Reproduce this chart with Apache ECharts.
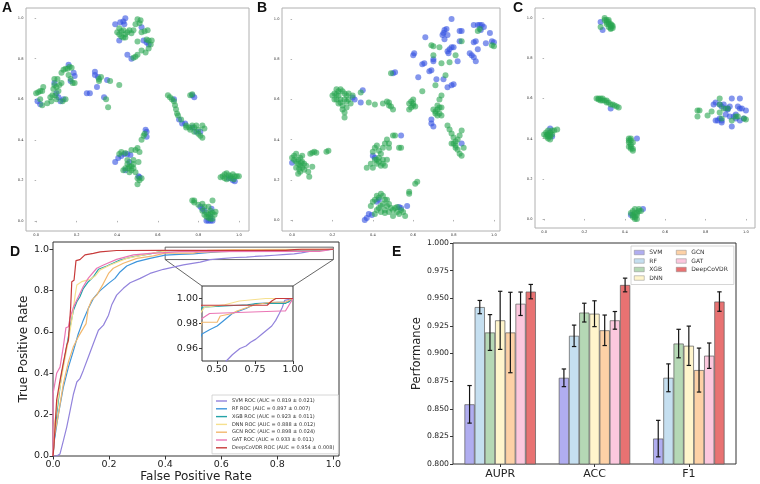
<!DOCTYPE html>
<html><head><meta charset="utf-8">
<script src="https://cdn.jsdelivr.net/npm/echarts@6/dist/echarts.min.js"></script>
<style>html,body{margin:0;padding:0;background:#fff}#c{width:760px;height:484px}</style>
</head><body><div id="c"></div><script>
// ---------------- DATA ----------------
const scatterTickValues = [0, 0.2, 0.4, 0.6, 0.8, 1.0];

const A_blue = [[0.39,0.97],[0.415,0.98],[0.43,0.983],[0.44,1.0],[0.435,0.97],[0.41,0.89],[0.45,0.82],[0.47,0.80],[0.53,0.89],[0.545,0.88],[0.555,0.87],[0.52,0.955],
[0.007,0.59],[0.02,0.575],[0.16,0.77],[0.185,0.73],[0.19,0.715],[0.09,0.68],[0.1,0.63],[0.12,0.59],[0.135,0.6],[0.11,0.61],[0.17,0.69],
[0.29,0.735],[0.29,0.72],[0.305,0.71],[0.30,0.66],[0.35,0.695],[0.25,0.63],[0.265,0.63],[0.335,0.61],
[0.39,0.29],[0.405,0.31],[0.42,0.32],[0.435,0.33],[0.45,0.33],[0.465,0.325],[0.54,0.45],[0.545,0.44],[0.545,0.415],[0.505,0.22],[0.51,0.215],[0.46,0.29],[0.44,0.25],
[0.72,0.48],[0.735,0.48],[0.705,0.5],[0.77,0.46],[0.79,0.44],[0.81,0.44],[0.78,0.61],[0.77,0.62],[0.68,0.6],
[0.81,0.07],[0.82,0.06],[0.83,0.05],[0.84,0.0],[0.85,0.0],[0.86,0.0],[0.87,0.0],[0.86,0.02],[0.865,0.06],
[0.97,0.2],[0.98,0.195],[0.95,0.21]];
const A_green = [[0.40,0.93],[0.41,0.92],[0.42,0.91],[0.43,0.905],[0.44,0.92],[0.45,0.93],[0.46,0.94],[0.47,0.925],[0.48,0.94],[0.49,0.97],[0.50,0.995],[0.515,0.99],[0.52,0.93],[0.535,0.935],[0.545,0.895],[0.555,0.89],[0.565,0.87],[0.555,0.85],[0.54,0.83],[0.52,0.84],[0.50,0.82],[0.49,0.81],[0.48,0.805],[0.50,0.885],[0.41,0.95],[0.43,0.94],[0.57,0.89],[0.51,0.975],[0.55,0.94],[0.42,0.935],[0.44,0.905],
[0.0,0.63],[0.01,0.635],[0.02,0.64],[0.03,0.64],[0.035,0.66],[0.02,0.60],[0.03,0.57],[0.055,0.58],[0.075,0.59],[0.08,0.62],[0.085,0.65],[0.09,0.67],[0.09,0.70],[0.105,0.70],[0.10,0.66],[0.11,0.64],[0.115,0.67],[0.125,0.68],[0.125,0.73],[0.135,0.745],[0.145,0.75],[0.155,0.75],[0.165,0.76],[0.175,0.755],[0.16,0.72],[0.17,0.70],[0.18,0.68],[0.19,0.68],[0.13,0.59],[0.145,0.60],[0.095,0.62],[0.10,0.60],[0.07,0.61],
[0.31,0.70],[0.31,0.69],[0.365,0.69],[0.41,0.67],[0.355,0.56],[0.345,0.60],[0.32,0.71],
[0.41,0.33],[0.42,0.34],[0.44,0.335],[0.45,0.30],[0.45,0.28],[0.46,0.27],[0.47,0.27],[0.47,0.25],[0.46,0.24],[0.44,0.26],[0.43,0.25],[0.48,0.30],[0.49,0.35],[0.50,0.36],[0.51,0.34],[0.52,0.40],[0.53,0.42],[0.535,0.43],[0.49,0.24],[0.50,0.21],[0.51,0.20],[0.50,0.18],[0.52,0.21],[0.48,0.26],[0.47,0.35],[0.48,0.28],[0.455,0.26],[0.505,0.29],
[0.65,0.62],[0.66,0.61],[0.67,0.60],[0.68,0.59],[0.685,0.57],[0.69,0.55],[0.695,0.53],[0.70,0.52],[0.715,0.50],[0.74,0.47],[0.755,0.46],[0.76,0.45],[0.78,0.46],[0.80,0.45],[0.82,0.47],[0.80,0.43],[0.82,0.41],[0.78,0.44],[0.74,0.46],[0.83,0.455],[0.76,0.62],[0.77,0.625],[0.81,0.42],[0.79,0.47],[0.77,0.47],
[0.77,0.10],[0.78,0.10],[0.78,0.09],[0.80,0.08],[0.82,0.085],[0.83,0.07],[0.85,0.07],[0.87,0.10],[0.885,0.045],[0.84,0.04],[0.85,0.03],[0.86,0.035],[0.84,0.02],[0.85,0.015],[0.86,0.01],[0.87,0.01],[0.83,0.03],[0.82,0.05],[0.86,0.05],[0.87,0.04],[0.88,0.03],
[0.92,0.22],[0.93,0.23],[0.94,0.235],[0.95,0.225],[0.96,0.22],[0.97,0.23],[0.98,0.22],[0.99,0.22],[1.0,0.22],[0.93,0.21],[0.94,0.205],[0.96,0.21],[0.975,0.205],[0.91,0.215]];

const B_blue = [[0.0,0.285],[0.30,0.61],[0.31,0.60],[0.35,0.645],[0.34,0.585],
[0.40,0.32],[0.41,0.31],[0.54,0.42],[0.84,0.38],
[0.36,0.0],[0.37,0.01],[0.38,0.03],[0.395,0.025],[0.42,0.09],[0.43,0.10],[0.53,0.065],[0.54,0.06],[0.57,0.07],
[0.50,0.73],[0.51,0.735],[0.60,0.82],[0.605,0.83],[0.625,0.71],[0.645,0.775],[0.655,0.78],[0.66,0.91],[0.68,0.74],[0.69,0.745],[0.70,0.79],[0.70,0.80],[0.69,0.50],[0.69,0.48],[0.70,0.465],[0.715,0.70],[0.745,0.92],[0.75,0.93],[0.755,0.945],[0.765,0.95],[0.77,0.92],[0.755,0.90],[0.77,0.84],[0.78,0.85],[0.79,0.86],[0.80,0.86],[0.79,1.0],[0.775,0.83],[0.77,0.66],[0.79,0.67],[0.80,0.675],[0.83,0.94],[0.84,0.94],[0.82,0.79],[0.83,0.89],[0.88,0.83],[0.89,0.82],[0.90,0.81],[0.91,0.79],[0.90,0.885],[0.91,0.89],[0.92,0.85],[0.92,0.97],[0.93,0.97],[0.94,0.97],[0.95,0.96],[0.90,0.97],[0.98,0.93],[0.99,0.89],[1.0,0.885],[0.935,0.945],[0.96,0.88],[0.75,0.70]];
const B_green = [[0.0,0.31],[0.01,0.30],[0.01,0.32],[0.02,0.33],[0.02,0.29],[0.03,0.28],[0.03,0.30],[0.04,0.31],[0.04,0.27],[0.05,0.26],[0.05,0.29],[0.06,0.28],[0.06,0.25],[0.04,0.24],[0.03,0.23],[0.07,0.27],[0.08,0.24],[0.085,0.215],[0.05,0.32],[0.02,0.26],[0.10,0.265],[0.10,0.335],[0.11,0.34],[0.12,0.335],[0.17,0.34],[0.18,0.345],[0.09,0.33],[0.035,0.255],[0.045,0.285],
[0.20,0.62],[0.21,0.63],[0.22,0.65],[0.23,0.64],[0.24,0.65],[0.25,0.64],[0.26,0.63],[0.27,0.62],[0.28,0.60],[0.29,0.58],[0.27,0.56],[0.25,0.57],[0.23,0.58],[0.22,0.60],[0.24,0.60],[0.26,0.60],[0.25,0.55],[0.26,0.535],[0.26,0.51],[0.21,0.60],[0.28,0.63],[0.30,0.62],[0.23,0.62],[0.27,0.59],[0.24,0.585],[0.22,0.625],
[0.34,0.635],[0.38,0.585],[0.41,0.575],[0.45,0.58],[0.47,0.59],[0.48,0.585],[0.48,0.57],[0.50,0.55],[0.49,0.565],
[0.58,0.58],[0.59,0.59],[0.60,0.58],[0.60,0.57],[0.59,0.56],[0.61,0.565],[0.58,0.55],[0.60,0.60],
[0.37,0.26],[0.39,0.28],[0.40,0.26],[0.41,0.30],[0.42,0.28],[0.42,0.30],[0.43,0.29],[0.43,0.31],[0.44,0.27],[0.45,0.28],[0.45,0.30],[0.46,0.27],[0.44,0.33],[0.45,0.36],[0.46,0.38],[0.47,0.40],[0.48,0.38],[0.48,0.36],[0.50,0.42],[0.51,0.42],[0.53,0.36],[0.54,0.36],[0.40,0.34],[0.41,0.36],[0.42,0.37],[0.47,0.30],[0.43,0.345],
[0.39,0.07],[0.40,0.09],[0.41,0.10],[0.42,0.12],[0.43,0.11],[0.44,0.13],[0.45,0.12],[0.46,0.10],[0.45,0.08],[0.44,0.07],[0.43,0.06],[0.42,0.05],[0.44,0.04],[0.46,0.05],[0.47,0.07],[0.48,0.08],[0.49,0.06],[0.50,0.05],[0.51,0.06],[0.52,0.04],[0.53,0.03],[0.54,0.05],[0.55,0.04],[0.56,0.02],[0.50,0.02],[0.58,0.14],[0.58,0.13],[0.61,0.18],[0.62,0.19],[0.41,0.03],[0.48,0.04],[0.46,0.035],[0.47,0.10],[0.52,0.065],
[0.77,0.47],[0.78,0.45],[0.79,0.43],[0.80,0.41],[0.81,0.39],[0.82,0.40],[0.83,0.42],[0.84,0.445],[0.80,0.38],[0.81,0.36],[0.82,0.35],[0.83,0.33],[0.84,0.32],[0.85,0.36],[0.81,0.37],[0.79,0.38],
[0.49,0.73],[0.645,0.64],[0.69,0.87],[0.70,0.865],[0.70,0.82],[0.71,0.67],[0.73,0.86],[0.74,0.78],[0.73,0.60],[0.74,0.62],[0.76,0.72],[0.78,0.785],[0.81,0.82],[0.84,0.89],[0.92,0.94],[0.93,0.95],[0.99,0.87],[1.0,0.865],
[0.74,0.56],[0.72,0.55],[0.71,0.54],[0.70,0.55],[0.72,0.57],[0.73,0.53],[0.74,0.52],[0.71,0.53],[0.72,0.52],[0.73,0.56]];

const C_blue = [[0.28,0.98],[0.29,0.94],[0.33,0.55],[0.03,0.45],[0.04,0.41],[0.46,0.40],[0.43,0.02],[0.49,0.05],
[0.84,0.57],[0.85,0.58],[0.87,0.57],[0.88,0.56],[0.89,0.57],[0.90,0.55],[0.91,0.55],[0.92,0.56],[0.93,0.60],[0.97,0.60],[0.96,0.56],[0.97,0.55],[0.98,0.55],[1.0,0.54],[0.94,0.51],[0.95,0.50],[0.93,0.46],[0.88,0.49],[0.87,0.50],[0.86,0.49],[0.88,0.48],[0.90,0.52],[0.92,0.51],[0.95,0.52],[0.99,0.50],[0.85,0.49],[0.97,0.49],[0.91,0.545]];
const C_green = [[0.30,1.0],[0.31,0.99],[0.31,0.98],[0.32,0.98],[0.32,0.97],[0.33,0.96],[0.33,0.95],[0.34,0.95],[0.34,0.96],[0.31,0.97],[0.32,0.99],[0.33,0.97],[0.30,0.99],[0.33,0.945],[0.28,0.955],[0.32,0.955],[0.335,0.965],
[0.26,0.60],[0.27,0.60],[0.28,0.60],[0.28,0.59],[0.29,0.60],[0.29,0.59],[0.30,0.59],[0.31,0.58],[0.32,0.58],[0.33,0.57],[0.34,0.57],[0.35,0.565],[0.36,0.56],[0.37,0.555],[0.27,0.595],[0.31,0.59],
[0.0,0.42],[0.01,0.43],[0.01,0.41],[0.02,0.42],[0.02,0.40],[0.03,0.41],[0.03,0.43],[0.04,0.42],[0.04,0.44],[0.05,0.44],[0.065,0.445],[0.03,0.395],[0.02,0.44],[0.015,0.42],[0.03,0.42],[0.02,0.41],
[0.42,0.40],[0.43,0.40],[0.43,0.39],[0.42,0.38],[0.43,0.37],[0.43,0.36],[0.43,0.35],[0.44,0.34],[0.42,0.39],[0.44,0.38],[0.42,0.36],[0.44,0.35],
[0.43,0.03],[0.44,0.02],[0.44,0.04],[0.45,0.03],[0.45,0.01],[0.46,0.0],[0.46,0.02],[0.47,0.04],[0.47,0.05],[0.45,0.05],[0.46,0.03],[0.44,0.01],[0.45,0.0],[0.48,0.04],
[0.76,0.54],[0.77,0.54],[0.76,0.51],[0.81,0.515],[0.83,0.535],[0.87,0.60],[0.87,0.57],[0.87,0.53],[0.89,0.55],[0.91,0.55],[0.93,0.49],[0.95,0.51],[0.96,0.51],[1.0,0.495],[0.99,0.50],[0.88,0.50]];

// ROC curves [fpr, tpr]
const rocLabels = ['SVM ROC (AUC = 0.819 ± 0.021)','RF ROC (AUC = 0.897 ± 0.007)','XGB ROC (AUC = 0.923 ± 0.011)','DNN ROC (AUC = 0.888 ± 0.012)','GCN ROC (AUC = 0.898 ± 0.024)','GAT ROC (AUC = 0.933 ± 0.011)','DeepCoVDR ROC (AUC = 0.954 ± 0.008)'];
const svmRoc = [[0,0],[0.013,0],[0.025,0.01],[0.037,0.074],[0.049,0.14],[0.061,0.22],[0.073,0.30],[0.085,0.358],[0.096,0.374],[0.108,0.414],[0.126,0.479],[0.144,0.544],[0.162,0.608],[0.18,0.633],[0.198,0.681],[0.21,0.733],[0.227,0.778],[0.251,0.811],[0.275,0.838],[0.311,0.859],[0.346,0.883],[0.394,0.903],[0.465,0.924],[0.525,0.938],[0.56,0.95],[0.6,0.955],[0.65,0.96],[0.69,0.962],[0.72,0.965],[0.755,0.9675],[0.79,0.971],[0.82,0.974],[0.86,0.978],[0.886,0.9825],[0.91,0.988],[0.93,0.993],[0.945,0.9985],[1,1]];
const rfRoc = [[0,0],[0.003,0.06],[0.019,0.2],[0.037,0.333],[0.055,0.43],[0.073,0.51],[0.09,0.59],[0.108,0.657],[0.126,0.714],[0.144,0.762],[0.168,0.8],[0.198,0.835],[0.221,0.859],[0.239,0.89],[0.263,0.919],[0.299,0.94],[0.346,0.956],[0.4,0.9716],[0.45,0.975],[0.5,0.978],[0.55,0.983],[0.6,0.988],[0.69,0.992],[0.755,0.996],[0.9,0.997],[0.97,0.997],[1,1]];
const xgbRoc = [[0,0],[0.004,0.07],[0.013,0.2],[0.031,0.4],[0.049,0.53],[0.061,0.625],[0.073,0.705],[0.085,0.746],[0.096,0.77],[0.108,0.81],[0.126,0.843],[0.144,0.867],[0.162,0.903],[0.192,0.919],[0.239,0.948],[0.287,0.964],[0.346,0.977],[0.37,0.985],[0.4,0.993],[0.7,0.995],[0.76,0.996],[0.95,0.996],[1,1]];
const dnnRoc = [[0,0],[0.004,0.14],[0.019,0.285],[0.037,0.43],[0.055,0.56],[0.067,0.657],[0.079,0.778],[0.085,0.827],[0.102,0.843],[0.132,0.854],[0.15,0.87],[0.168,0.9],[0.204,0.924],[0.263,0.956],[0.323,0.973],[0.37,0.985],[0.417,0.993],[0.55,0.995],[0.646,0.998],[0.82,1.0],[1,1]];
const gcnRoc = [[0,0],[0.004,0.09],[0.019,0.2],[0.037,0.35],[0.055,0.455],[0.073,0.53],[0.09,0.576],[0.108,0.617],[0.118,0.64],[0.126,0.714],[0.138,0.754],[0.156,0.778],[0.18,0.835],[0.198,0.883],[0.215,0.908],[0.251,0.932],[0.299,0.956],[0.358,0.968],[0.4,0.981],[0.5,0.981],[0.52,0.986],[0.6,0.988],[0.63,0.99],[0.75,0.995],[0.85,0.997],[0.95,0.997],[1,1]];
const gatRoc = [[0,0],[0.0,0.30],[0.013,0.40],[0.025,0.43],[0.037,0.53],[0.046,0.62],[0.055,0.625],[0.061,0.67],[0.073,0.72],[0.085,0.754],[0.108,0.82],[0.126,0.86],[0.156,0.908],[0.18,0.924],[0.227,0.951],[0.287,0.973],[0.346,0.98],[0.4,0.984],[0.45,0.988],[0.92,0.99],[0.95,0.99],[1,1]];
const deepRoc = [[0,0],[0.003,0.04],[0.013,0.27],[0.025,0.366],[0.037,0.45],[0.049,0.535],[0.055,0.56],[0.063,0.72],[0.067,0.843],[0.075,0.85],[0.082,0.945],[0.096,0.95],[0.114,0.973],[0.144,0.98],[0.168,0.987],[0.227,0.994],[0.4,0.9946],[0.83,0.9946],[0.86,0.998],[0.887,1.0],[1,1]];
const rocData = [svmRoc, rfRoc, xgbRoc, dnnRoc, gcnRoc, gatRoc, deepRoc];
const rocTicks = [0, 0.2, 0.4, 0.6, 0.8, 1.0];
const insetX = [0.4, 1.0];
const insetY = [0.95, 1.01];
const insetXTicks = [0.5, 0.75, 1.0];
const insetYTicks = [0.96, 0.98, 1.0];

// Bar chart (panel E)
const metrics = ['AUPR', 'ACC', 'F1'];
const models = ['SVM', 'RF', 'XGB', 'DNN', 'GCN', 'GAT', 'DeepCoVDR'];
const svmVals  = [0.854, 0.878, 0.823]; const svmErr  = [0.017, 0.008, 0.0165];
const rfVals   = [0.942, 0.916, 0.878]; const rfErr   = [0.006, 0.0097, 0.0126];
const xgbVals  = [0.919, 0.937, 0.909]; const xgbErr  = [0.0162, 0.0085, 0.0129];
const dnnVals  = [0.930, 0.936, 0.907]; const dnnErr  = [0.0263, 0.0117, 0.0178];
const gcnVals  = [0.919, 0.921, 0.885]; const gcnErr  = [0.0364, 0.0138, 0.0199];
const gatVals  = [0.945, 0.930, 0.898]; const gatErr  = [0.0106, 0.008, 0.0115];
const deepVals = [0.956, 0.962, 0.947]; const deepErr = [0.0065, 0.0062, 0.0088];
const barVals = [svmVals, rfVals, xgbVals, dnnVals, gcnVals, gatVals, deepVals];
const barErrs = [svmErr, rfErr, xgbErr, dnnErr, gcnErr, gatErr, deepErr];

// ---------------- STYLE ----------------
const FONT = 'DejaVu Sans';
const rocColors = ['#9283dc', '#3d95db', '#25a3a8', '#f6e08e', '#f2b86e', '#ea76b5', '#c73a3a'];
const barColors = ['#b0adf0', '#c5dff0', '#b5d8b5', '#fff5cc', '#fdd1a6', '#fcc8de', '#e87272'];
const BLUE = 'rgb(50,80,225)';
const GREEN = 'rgb(40,165,80)';
const BAR_W = 10.2;

const chart = echarts.init(document.getElementById('c'), null, { renderer: 'canvas' });

function scatterAxis(gi, min, max) {
  return {
    type: 'value', gridIndex: gi, min: min, max: max,
    axisLine: { show: false }, splitLine: { show: false },
    axisTick: { show: true, length: 1.5, lineStyle: { color: '#666', width: 0.5 }, customValues: scatterTickValues },
    axisLabel: { fontSize: 3.6, color: '#333', fontFamily: FONT, margin: 2.5, customValues: scatterTickValues, formatter: v => v.toFixed(1) }
  };
}
const scatterGridStyle = { show: true, borderColor: '#b0b0b0', borderWidth: 1, backgroundColor: 'transparent' };

function scatterSeries(gi, data, color) {
  return {
    type: 'scatter', xAxisIndex: gi, yAxisIndex: gi, data: data, symbolSize: 6, silent: true,
    itemStyle: { color: color, opacity: 0.6 }
  };
}

const series = [];
series.push(scatterSeries(0, A_blue, BLUE), scatterSeries(0, A_green, GREEN));
series.push(scatterSeries(1, B_blue, BLUE), scatterSeries(1, B_green, GREEN));
series.push(scatterSeries(2, C_blue, BLUE), scatterSeries(2, C_green, GREEN));

rocData.forEach((d, i) => {
  const s = {
    type: 'line', name: rocLabels[i], xAxisIndex: 3, yAxisIndex: 3, data: d, symbol: 'none', showSymbol: false,
    lineStyle: { color: rocColors[i], width: 1.2 }, itemStyle: { color: rocColors[i] }, silent: true, z: 3 + i
  };
  if (i === 0) {
    s.markArea = {
      silent: true,
      itemStyle: { color: 'rgba(0,0,0,0)', borderColor: '#555', borderWidth: 0.9 },
      data: [[{ coord: [insetX[0], insetY[0]] }, { coord: [insetX[1], insetY[1]] }]]
    };
  }
  series.push(s);
});
rocData.forEach((d, i) => {
  series.push({
    type: 'line', name: rocLabels[i], xAxisIndex: 4, yAxisIndex: 4, data: d, symbol: 'none', showSymbol: false, clip: true,
    lineStyle: { color: rocColors[i], width: 1.2 }, itemStyle: { color: rocColors[i] }, silent: true, z: 3 + i
  });
});

barVals.forEach((vals, k) => {
  series.push({
    type: 'bar', name: models[k], xAxisIndex: 5, yAxisIndex: 5, data: vals, barWidth: BAR_W, barGap: '0%',
    itemStyle: { color: barColors[k], borderColor: '#5a5a5a', borderWidth: 0.7 }, silent: true
  });
});
const errData = [];
barVals.forEach((vals, k) => vals.forEach((v, i) => errData.push([i, v - barErrs[k][i], v + barErrs[k][i], k])));
series.push({
  type: 'custom', xAxisIndex: 5, yAxisIndex: 5, data: errData, encode: { x: 0, y: [1, 2] }, z: 10, silent: true,
  renderItem: function (params, api) {
    const ci = api.value(0), lo = api.value(1), hi = api.value(2), k = api.value(3);
    const pLo = api.coord([ci, lo]);
    const pHi = api.coord([ci, hi]);
    const x = pLo[0] + (k - (models.length - 1) / 2) * BAR_W;
    const st = { stroke: '#151515', lineWidth: 1.2 };
    return {
      type: 'group', children: [
        { type: 'line', shape: { x1: x, y1: pHi[1], x2: x, y2: pLo[1] }, style: st },
        { type: 'line', shape: { x1: x - 2.2, y1: pHi[1], x2: x + 2.2, y2: pHi[1] }, style: st },
        { type: 'line', shape: { x1: x - 2.2, y1: pLo[1], x2: x + 2.2, y2: pLo[1] }, style: st }
      ]
    };
  }
});

const letterStyle = { fontSize: 14, fontWeight: 'bold', fontFamily: 'Liberation Sans', fill: '#111' };
const letters = [['A', 2, 1], ['B', 257, 1], ['C', 513, 1], ['D', 10, 245], ['E', 392, 245]];
const letterGraphics = () => letters.map(l => ({
  type: 'text', left: l[1], top: l[2], silent: true,
  style: Object.assign({ text: l[0] }, letterStyle)
}));

const barLegendBase = {
  orient: 'vertical', top: 246, icon: 'rect', itemWidth: 10, itemHeight: 4.5, itemGap: 1.5, selectedMode: false,
  itemStyle: { borderColor: '#8a8a8a', borderWidth: 0.5 },
  textStyle: { fontSize: 6, lineHeight: 7, color: '#333', fontFamily: FONT }
};

const option = {
  animation: false,
  backgroundColor: '#fff',
  textStyle: { fontFamily: FONT },
  grid: [
    Object.assign({ left: 26, top: 8, width: 223, height: 223 }, scatterGridStyle),
    Object.assign({ left: 282, top: 8, width: 218, height: 223 }, scatterGridStyle),
    Object.assign({ left: 535, top: 8, width: 220, height: 220 }, scatterGridStyle),
    { left: 53, top: 242, width: 286, height: 214, show: true, borderColor: '#333', borderWidth: 1, backgroundColor: 'transparent' },
    { left: 202, top: 286, width: 91, height: 75, show: true, borderColor: '#333', borderWidth: 1, backgroundColor: '#fff' },
    { left: 453, top: 243, width: 283, height: 221, show: true, borderColor: '#333', borderWidth: 1, backgroundColor: 'transparent' }
  ],
  xAxis: [
    scatterAxis(0, -0.05, 1.05),
    scatterAxis(1, -0.05, 1.03),
    scatterAxis(2, -0.045, 1.045),
    {
      type: 'value', gridIndex: 3, min: 0, max: 1.02, axisLine: { show: false }, splitLine: { show: false },
      axisTick: { show: true, length: 3.5, lineStyle: { color: '#333' }, customValues: rocTicks },
      axisLabel: { customValues: rocTicks, formatter: v => v.toFixed(1), fontSize: 9.5, margin: 4, color: '#222', fontFamily: FONT },
      name: 'False Positive Rate', nameLocation: 'middle', nameGap: 14,
      nameTextStyle: { fontSize: 12, color: '#222', fontFamily: FONT }
    },
    {
      type: 'value', gridIndex: 4, min: insetX[0], max: insetX[1], axisLine: { show: false }, splitLine: { show: false },
      axisTick: { show: true, length: 3, lineStyle: { color: '#333' }, customValues: insetXTicks },
      axisLabel: { customValues: insetXTicks, formatter: v => v.toFixed(2), fontSize: 9.5, margin: 4, color: '#222', fontFamily: FONT }
    },
    {
      type: 'category', gridIndex: 5, data: metrics, axisLine: { show: false },
      axisTick: { show: true, alignWithLabel: true, length: 3, lineStyle: { color: '#333' } },
      axisLabel: { fontSize: 11, margin: 5, color: '#222', fontFamily: FONT }
    }
  ],
  yAxis: [
    scatterAxis(0, -0.05, 1.05),
    scatterAxis(1, -0.055, 1.055),
    scatterAxis(2, -0.045, 1.05),
    {
      type: 'value', gridIndex: 3, min: 0, max: 1.035, axisLine: { show: false }, splitLine: { show: false },
      axisTick: { show: true, length: 3.5, lineStyle: { color: '#333' }, customValues: rocTicks },
      axisLabel: { customValues: rocTicks, formatter: v => v.toFixed(1), fontSize: 9.5, margin: 4, color: '#222', fontFamily: FONT },
      name: 'True Positive Rate', nameLocation: 'middle', nameGap: 21,
      nameTextStyle: { fontSize: 12, color: '#222', fontFamily: FONT }
    },
    {
      type: 'value', gridIndex: 4, min: insetY[0], max: insetY[1], axisLine: { show: false }, splitLine: { show: false },
      axisTick: { show: true, length: 3, lineStyle: { color: '#333' }, customValues: insetYTicks },
      axisLabel: { customValues: insetYTicks, formatter: v => v.toFixed(2), fontSize: 9.5, margin: 4, color: '#222', fontFamily: FONT }
    },
    {
      type: 'value', gridIndex: 5, min: 0.8, max: 1.0, interval: 0.025, axisLine: { show: false }, splitLine: { show: false },
      axisTick: { show: true, length: 3, lineStyle: { color: '#333' } },
      axisLabel: { formatter: v => v.toFixed(3), fontSize: 7.7, margin: 4, color: '#222', fontFamily: FONT },
      name: 'Performance', nameLocation: 'middle', nameGap: 30,
      nameTextStyle: { fontSize: 11.5, color: '#222', fontFamily: FONT }
    }
  ],
  legend: [
    {
      data: rocLabels, orient: 'vertical', left: 212, top: 395, padding: [3, 4, 3, 4],
      icon: 'rect', itemWidth: 11, itemHeight: 1.4, itemGap: 1.8, selectedMode: false,
      itemStyle: { borderWidth: 0 },
      textStyle: { fontSize: 5, lineHeight: 6, color: '#333', fontFamily: FONT },
      borderColor: '#ccc', borderWidth: 0.8, backgroundColor: 'rgba(255,255,255,0.9)'
    },
    Object.assign({}, barLegendBase, {
      data: models.slice(0, 4), left: 631, padding: [3, 71, 3, 3],
      borderColor: '#ccc', borderWidth: 0.8, backgroundColor: 'rgba(255,255,255,0.9)'
    }),
    Object.assign({}, barLegendBase, {
      data: models.slice(4), left: 676, padding: [3, 0, 3, 0],
      borderWidth: 0, backgroundColor: 'transparent'
    })
  ],
  graphic: letterGraphics(),
  series: series
};
chart.setOption(option);

// connector lines from zoom rectangle to inset
const a1 = chart.convertToPixel({ gridIndex: 3 }, [insetX[0], insetY[0]]);
const a2 = chart.convertToPixel({ gridIndex: 3 }, [insetX[1], insetY[0]]);
const b1 = chart.convertToPixel({ gridIndex: 4 }, [insetX[0], insetY[1]]);
const b2 = chart.convertToPixel({ gridIndex: 4 }, [insetX[1], insetY[1]]);
const connStyle = { stroke: '#555', lineWidth: 0.9 };
chart.setOption({
  graphic: letterGraphics().concat([
    { type: 'line', silent: true, shape: { x1: a1[0], y1: a1[1], x2: b1[0], y2: b1[1] }, style: connStyle },
    { type: 'line', silent: true, shape: { x1: a2[0], y1: a2[1], x2: b2[0], y2: b2[1] }, style: connStyle }
  ])
});
</script></body></html>
